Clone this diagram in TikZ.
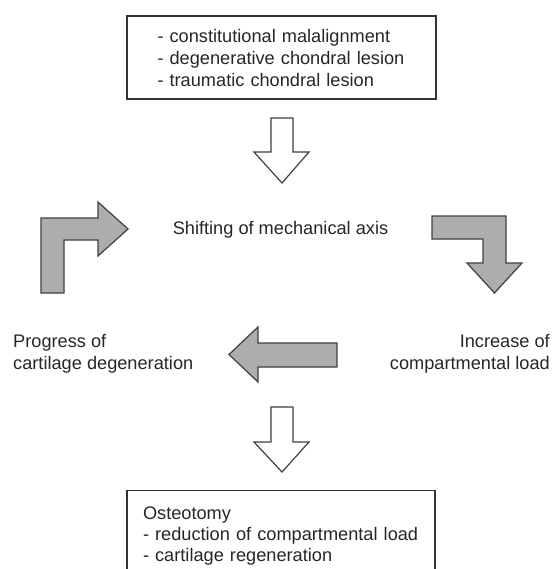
\documentclass[tikz,border=0pt]{standalone}
\usepackage{fontspec}
\setmainfont{Liberation Sans}
\usetikzlibrary{positioning}

\begin{document}
\begin{tikzpicture}[x=1pt,y=-1pt]
\tikzstyle{box}=[draw=black!80,line width=1.3pt,text=black!85,align=left,font=\fontsize{18.2}{22}\selectfont]
\tikzstyle{label}=[inner sep=0pt,text=black!85,font=\fontsize{18.2}{22}\selectfont]
\tikzstyle{hollow}=[draw=black!75,line width=1.2pt,fill=white,line join=miter]
\tikzstyle{greyarrow}=[draw=black!75,line width=1.2pt,fill=black!32,line join=miter]

\useasboundingbox (0,0) rectangle (551,569);

\node (causes) at (281.5,57.5) [box,minimum width=309pt,minimum height=83pt,text width=248pt] {- constitutional malalignment\\- degenerative chondral lesion\\- traumatic chondral lesion};

\node (shift) at (280.5,230) [label] {Shifting of mechanical axis};
\node (progress) at (13,354) [label,anchor=west,align=left] {Progress of\\cartilage degeneration};
\node (increase) at (550,354) [label,anchor=east,align=right] {Increase of\\compartmental load};

\node (osteo) at (281,490) [box,anchor=north,minimum width=308pt,text width=276pt,inner ysep=16.5pt,font=\fontsize{18.2}{20.8}\selectfont] {Osteotomy\\- reduction of compartmental load\\- cartilage regeneration};

% white arrows
\draw [hollow] (271,118) -- ++(22,0) -- ++(0,34) -- ++(16,0) -- (282,183) -- (254,152) -- ++(17,0) -- cycle;
\draw [hollow] (271,407) -- ++(22,0) -- ++(0,35) -- ++(16,0) -- (282,472) -- (254,442) -- ++(17,0) -- cycle;

% grey arrows
\draw [greyarrow] (41,293) -- (41,218) -- (98,218) -- ++(0,-16) -- (128,229) -- (98,256) -- ++(0,-16) -- (64,240) -- (64,293) -- cycle;
\draw [greyarrow] (432,216) -- (506,216) -- (506,263) -- ++(16,0) -- (494.5,293) -- (467,263) -- ++(16,0) -- (483,239) -- (432,239) -- cycle;
\draw [greyarrow] (337,343) -- (337,367) -- (258,367) -- ++(0,15) -- (229,354.5) -- (258,327) -- ++(0,16) -- cycle;

\end{tikzpicture}
\end{document}
